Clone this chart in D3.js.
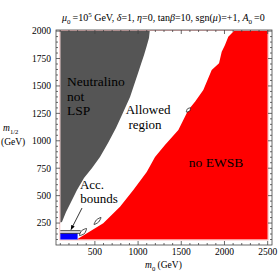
<!DOCTYPE html>
<html>
<head>
<script src="https://cdnjs.cloudflare.com/ajax/libs/d3/7.8.5/d3.min.js"></script>
<style>
  body { margin: 0; background: #fff; }
  text { font-family: "Liberation Serif", "DejaVu Serif", serif; fill: #000; }
</style>
</head>
<body>
<div id="chart"></div>
<script>
const width = 280, height = 280;

// m0, m1/2 in GeV
const xTicks = [500, 1000, 1500, 2000, 2500];
const yTicks = [250, 500, 750, 1000, 1250, 1500, 1750, 2000];

// edge of the "neutralino not LSP" region, top to bottom
const lspEdge = [
    [1135, 2000], [1126, 1937], [1100, 1864], [1069, 1782], [1034, 1700],
    [1000, 1618], [965, 1536], [907, 1399], [829, 1262], [744, 1117],
    [652, 980], [559, 852], [467, 752], [374, 661], [293, 551],
    [224, 442], [166, 351], [119, 260]
];

// edge of the "no EWSB" region, top to bottom
const ewsbEdge = [
    [2110, 2000], [2044, 1949], [2006, 1873], [1968, 1812], [1937, 1706],
    [1852, 1645], [1755, 1463], [1659, 1356], [1581, 1281], [1466, 1098],
    [1311, 962], [1196, 852], [1100, 716], [945, 551], [791, 399],
    [597, 248], [290, 100]
];

// accelerator bounds
const accBlue = [[100, 100], [300, 100], [300, 155], [100, 155]];
const accLines = [[[100, 157], [335, 157]], [[100, 180], [335, 180]]];
const islands = [
    [[322, 137], [346, 180], [403, 200], [379, 154]],
    [[490, 237], [518, 279], [571, 301], [543, 259]],
    [[1559, 1262], [1571, 1291], [1608, 1300], [1596, 1271]]
];
const arrowPts = [[351, 387], [224, 191]];

const labels = [
    {t: "Neutralino", x: 177, y: 1500, a: "start", s: 13.5},
    {t: "not", x: 177, y: 1367, a: "start", s: 13.5},
    {t: "LSP", x: 177, y: 1231, a: "start", s: 13.5},
    {t: "Allowed", x: 1115, y: 1240, a: "middle", s: 13},
    {t: "region", x: 1080, y: 1112, a: "middle", s: 13},
    {t: "Acc.", x: 467, y: 557, a: "middle", s: 13},
    {t: "bounds", x: 548, y: 429, a: "middle", s: 13},
    {t: "no EWSB", x: 1902, y: 761, a: "middle", s: 13.5}
];

const x = d3.scaleLinear().domain([50, 2550]).range([56, 272]);
const y = d3.scaleLinear().domain([50, 2010]).range([245, 30]);

const svg = d3.select("#chart").append("svg")
    .attr("width", width).attr("height", height);

svg.append("rect").attr("width", width).attr("height", height).attr("fill", "#fff");

const line = d3.line().x(d => x(d[0])).y(d => y(d[1]));

// regions
svg.append("path")
    .attr("d", line([[100, 2000], ...lspEdge, [100, 255]]) + "Z")
    .attr("fill", "#555555");

svg.append("path")
    .attr("d", line([...ewsbEdge, [2500, 100], [2500, 2000]]) + "Z")
    .attr("fill", "#ff0000");

svg.append("rect")
    .attr("x", x(100) - 0.5).attr("y", y(2000) - 0.5)
    .attr("width", x(2500) - x(100) + 1).attr("height", y(100) - y(2000) + 1)
    .attr("fill", "none").attr("stroke", "#f6b3b3").attr("stroke-width", 0.8);

svg.append("path")
    .attr("d", line(accBlue) + "Z")
    .attr("fill", "#0000ff");

accLines.forEach(l => {
    svg.append("path").attr("d", line(l))
        .attr("stroke", "#000").attr("stroke-width", 0.8).attr("fill", "none");
});

const closed = d3.line().x(d => x(d[0])).y(d => y(d[1]))
    .curve(d3.curveCardinalClosed.tension(0.3));
islands.forEach(p => {
    svg.append("path").attr("d", closed(p))
        .attr("fill", "#fff").attr("stroke", "#000").attr("stroke-width", 0.7);
});

// arrow
svg.append("defs").append("marker")
    .attr("id", "head").attr("viewBox", "0 0 10 10")
    .attr("refX", 9).attr("refY", 5)
    .attr("markerWidth", 6).attr("markerHeight", 6)
    .attr("orient", "auto")
    .append("path").attr("d", "M0,1 L10,5 L0,9 Z").attr("fill", "#000");

svg.append("path").attr("d", line(arrowPts))
    .attr("stroke", "#000").attr("stroke-width", 0.8)
    .attr("marker-end", "url(#head)");

// region labels
labels.forEach(l => {
    svg.append("text").attr("x", x(l.x)).attr("y", y(l.y))
        .attr("text-anchor", l.a).attr("font-size", l.s).text(l.t);
});

// frame and ticks
const x0 = 56, x1 = 272, y0 = 30, y1 = 245;
const frame = svg.append("g").attr("stroke", "#444").attr("stroke-width", 0.8);
frame.append("rect").attr("x", x0).attr("y", y0)
    .attr("width", x1 - x0).attr("height", y1 - y0).attr("fill", "none");

const xMinor = d3.range(100, 2550, 100).filter(v => v % 500 !== 0);
const yMinor = d3.range(100, 2010, 50).filter(v => v % 250 !== 0);

function xTick(v, len) {
    frame.append("line").attr("x1", x(v)).attr("x2", x(v)).attr("y1", y1).attr("y2", y1 - len);
    frame.append("line").attr("x1", x(v)).attr("x2", x(v)).attr("y1", y0).attr("y2", y0 + len);
}
function yTick(v, len) {
    frame.append("line").attr("y1", y(v)).attr("y2", y(v)).attr("x1", x0).attr("x2", x0 + len);
    frame.append("line").attr("y1", y(v)).attr("y2", y(v)).attr("x1", x1).attr("x2", x1 - len);
}
xTicks.forEach(v => xTick(v, 4));
xMinor.forEach(v => xTick(v, 2));
yTicks.forEach(v => yTick(v, 4));
yMinor.forEach(v => yTick(v, 2));

svg.selectAll(".xl").data(xTicks).enter().append("text")
    .attr("x", d => x(d)).attr("y", 255)
    .attr("text-anchor", "middle").attr("font-size", 9.5).text(d => d);

svg.selectAll(".yl").data(yTicks).enter().append("text")
    .attr("x", 51).attr("y", d => y(d) + 3.3)
    .attr("text-anchor", "end").attr("font-size", 9.5).text(d => d);

// rich text helper: parts of [string, kind]
function rich(px, py, size, parts, anchor) {
    const t = svg.append("text").attr("x", px).attr("y", py)
        .attr("font-size", size).attr("text-anchor", anchor || "start");
    let shift = 0;
    parts.forEach(([s, k]) => {
        const target = k === "sub" ? size * 0.3 : k === "sup" ? -size * 0.4 : 0;
        const ts = t.append("tspan").text(s).attr("dy", target - shift);
        shift = target;
        if (k === "i") ts.attr("font-style", "italic");
        if (k === "sub" || k === "sup") ts.attr("font-size", size * 0.7);
    });
    return t;
}

rich(62, 21, 10, [
    ["μ", "i"], ["0", "sub"], ["\u2009=10", ""], ["5", "sup"], [" GeV, ", ""],
    ["δ", "i"], ["=1, ", ""], ["η", "i"], ["=0, tan", ""], ["β", "i"],
    ["=10, sgn(", ""], ["μ", "i"], [")=+1, ", ""], ["A", "i"], ["0", "sub"], ["\u2009=0", ""]
]);

rich(145, 268, 9.5, [["m", "i"], ["0", "sub"], [" (GeV)", ""]]);
rich(3, 131, 9.5, [["m", "i"], ["1/2", "sub"]]);
rich(1, 144.5, 9.5, [["(GeV)", ""]]);
</script>
</body>
</html>
